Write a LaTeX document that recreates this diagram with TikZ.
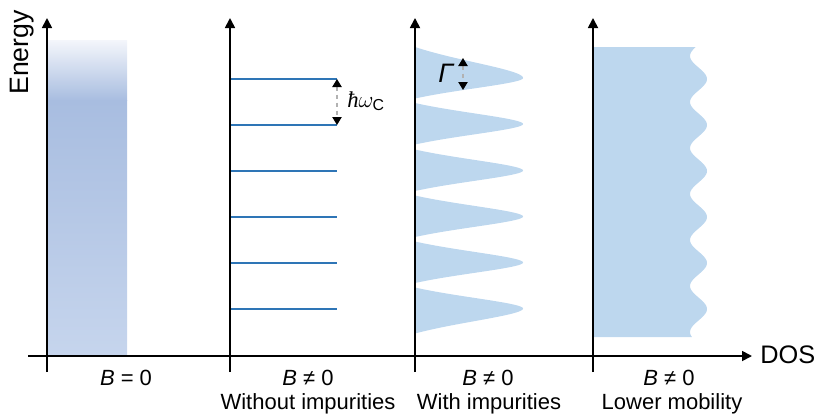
\documentclass[tikz,border=0pt]{standalone}
\usepackage{amsmath}
\usepackage[no-math]{fontspec}
\setmainfont{Liberation Sans}
\newfontfamily\planckfont{Liberation Serif}
\usetikzlibrary{arrows.meta, positioning}

\definecolor{dosblue}{RGB}{189,215,238}
\definecolor{levelblue}{RGB}{46,117,182}
\definecolor{gradtop}{RGB}{244,246,251}
\definecolor{graddark}{RGB}{168,189,224}
\definecolor{gradlow}{RGB}{198,213,237}

\tikzset{
  axis/.style={line width=1.3pt, -{Triangle[length=7.5pt,width=7.5pt]}},
  level/.style={levelblue, line width=1.3pt},
  spacing/.style={gray!60, dashed, line width=0.9pt,
    {Triangle[length=6pt,width=7pt,color=black]}-{Triangle[length=6pt,width=7pt,color=black]}},
  caption/.style={font=\fontsize{16.5}{19}\selectfont, anchor=base, inner sep=0pt},
}

\begin{document}
\begin{tikzpicture}[x=0.75pt, y=-0.75pt]
  \useasboundingbox (0,0) rectangle (817,415);
  % B = 0: continuous DOS
  \shade[top color=gradtop, bottom color=graddark] (47,40) rectangle (127,100.5);
  \shade[top color=graddark, bottom color=gradlow] (47,100) rectangle (127,356);
  % Landau levels without impurities
  \foreach \y in {79,125,171,217,263,309}
    \draw[level] (230,\y) -- (337,\y);
  % Broadened levels with impurities
  \foreach \yc/\up/\dn in {78/31/20.5, 124/21/20.5, 170.5/21/20.5,
                           216.5/21/20.5, 262.5/21/20.5, 308.5/21/25}
    \fill[dosblue]
      plot[domain=-1:0, samples=50] ({415+54*((1.0198-sqrt((\x)^2+0.04))/0.8198+(exp(-2.163*(\x)^2)-0.115)/0.885)}, {\yc+\up*\x})
      -- plot[domain=0:1, samples=50] ({415+54*((1.0198-sqrt((\x)^2+0.04))/0.8198+(exp(-2.163*(\x)^2)-0.115)/0.885)}, {\yc+\dn*\x})
      -- cycle;
  % Lower mobility: overlapping levels
  \fill[dosblue] (593,47)
    -- plot[domain=47:337, samples=160] ({698.5+8.5*cos(7.826*(\x-79))}, \x)
    -- (593,337) -- cycle;
  % Axes
  \coordinate (xstart) at (28,356);
  \coordinate (xend) at (752,356);
  \draw[axis] (xstart) -- (xend);
  \node[font=\fontsize{19}{22}\selectfont, anchor=west, inner sep=0pt] (dos) at (760,355) {DOS};
  \foreach \n/\x in {a/47, b/230, c/415, d/593} {
    \coordinate (\n bot) at (\x,372);
    \coordinate (\n top) at (\x,18);
    \draw[axis] (\n bot) -- (\n top);
  }
  \node[font=\fontsize{20}{24}\selectfont, rotate=90, inner sep=0pt] (energy) at (22.5,52.5) {Energy};
  % Level spacing
  \coordinate (lvlA) at (337,79);
  \coordinate (lvlB) at (337,125);
  \draw[spacing] (lvlA) -- (lvlB);
  \node[font=\fontsize{17}{19}\selectfont, anchor=west, inner sep=0pt] (hw) at (347,101)
    {{\planckfont\itshape ħ}$\omega_{\text{C}}$};
  % Level broadening
  \coordinate (gamA) at (463,58);
  \coordinate (gamB) at (463,90);
  \draw[spacing] (gamA) -- (gamB);
  \node[font=\fontsize{20}{24}\selectfont\itshape, inner sep=0pt] (gam) at (446,73) {Γ};
  % Labels
  \node[caption] (lblA) at (126,385) {\textit{B} = 0};
  \node[caption] (lblB) at (308,385) {\textit{B} ≠ 0};
  \node[caption] (lblC) at (488,385) {\textit{B} ≠ 0};
  \node[caption] (lblD) at (669,385) {\textit{B} ≠ 0};
  \node[caption] (capB) at (308,409) {Without impurities};
  \node[caption] (capC) at (489,409) {With impurities};
  \node[caption] (capD) at (672,409) {Lower mobility};
\end{tikzpicture}
\end{document}
